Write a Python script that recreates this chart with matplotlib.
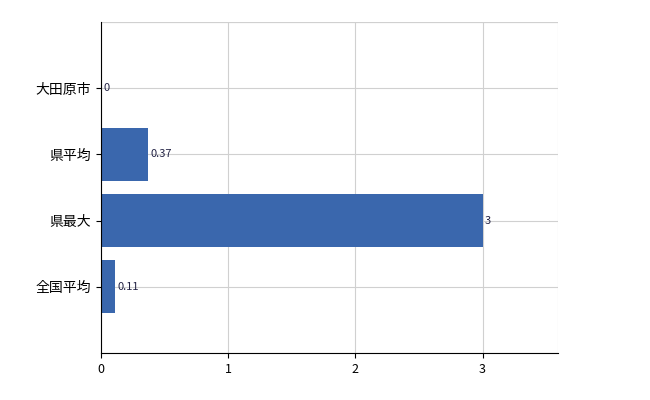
import matplotlib.pyplot as plt

plt.rcParams['font.family'] = ['Noto Sans CJK JP', 'DejaVu Sans']

categories = ['大田原市', '県平均', '県最大', '全国平均']
values = [0, 0.37, 3, 0.11]
labels = ['0', '0.37', '3', '0.11']

fig = plt.figure(figsize=(6.5, 4), dpi=100)
ax = fig.add_axes([0.155, 0.1175, 0.703, 0.8275])

pos = [4, 3, 2, 1]
ax.barh(pos, values, height=0.8, color='#3a67ad', zorder=2)
for p, v, t in zip(pos, values, labels):
    ax.text(v + 0.02, p, t, va='center', ha='left', fontsize=8, color='#222244', zorder=3)

ax.set_xlim(0, 3.59)
ax.set_ylim(0, 5)
ax.set_yticks(pos)
ax.set_yticklabels(categories, fontsize=10)
ax.set_xticks([0, 1, 2, 3])
ax.tick_params(axis='x', labelsize=9)
ax.set_yticks([0, 1, 2, 3, 4, 5], minor=True)
ax.grid(True, which='major', axis='x', color='#d0d0d0', linewidth=0.8, zorder=0)
ax.grid(True, which='minor', axis='y', color='#d0d0d0', linewidth=0.8, zorder=0)
ax.grid(True, which='major', axis='y', color='#d0d0d0', linewidth=0.8, zorder=0)
ax.tick_params(axis='y', which='minor', length=0)
ax.axvline(3.59, color='#d0d0d0', linewidth=0.8, zorder=0)
ax.axhline(5, color='#d0d0d0', linewidth=0.8, zorder=0)
for s in ['top', 'right']:
    ax.spines[s].set_visible(False)

fig.savefig('out.png')
